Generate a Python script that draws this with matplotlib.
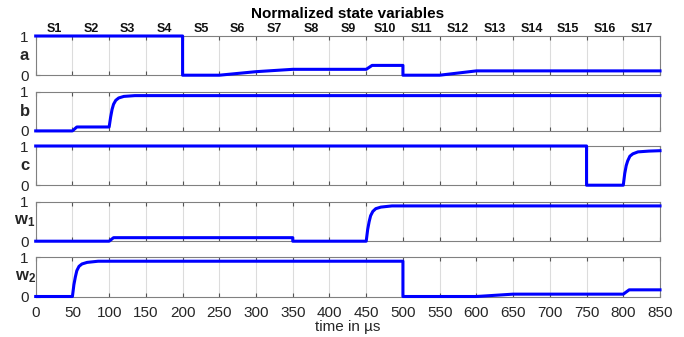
import matplotlib
matplotlib.use('Agg')
import matplotlib.pyplot as plt
import numpy as np

plt.rcParams['font.family'] = ['Liberation Sans', 'DejaVu Sans']
plt.rcParams['mathtext.fontset'] = 'custom'
plt.rcParams['mathtext.bf'] = 'Liberation Sans:bold'
plt.rcParams['mathtext.rm'] = 'Liberation Sans'

# state labels along the top
states = ['S%d' % i for i in range(1, 18)]
state_centers = [25 + 50 * i for i in range(17)]

# normalized state variables (time in us, value)
a_t = [0, 200, 200, 250, 300, 350, 450, 458, 500, 500, 550, 600, 850]
a_v = [1, 1, 0, 0, 0.09, 0.15, 0.15, 0.25, 0.25, 0, 0, 0.11, 0.11]

b_t = [0, 50, 56, 100, 102, 104, 106, 109, 113, 120, 135, 850]
b_v = [0, 0, 0.1, 0.1, 0.35, 0.55, 0.68, 0.78, 0.84, 0.88, 0.9, 0.9]

c_t = [0, 750, 750, 800, 802, 804, 806, 809, 813, 820, 835, 850]
c_v = [1, 1, 0, 0, 0.3, 0.5, 0.62, 0.74, 0.8, 0.85, 0.87, 0.88]

w1_t = [0, 100, 106, 350, 350, 450, 452, 454, 456, 459, 463, 470, 485, 850]
w1_v = [0, 0, 0.09, 0.09, 0, 0, 0.3, 0.5, 0.65, 0.76, 0.83, 0.87, 0.9, 0.9]

w2_t = [0, 50, 52, 54, 56, 59, 63, 70, 85, 500, 500, 600, 650, 800, 808, 850]
w2_v = [0, 0, 0.3, 0.5, 0.66, 0.77, 0.83, 0.87, 0.9, 0.9, 0, 0, 0.06, 0.06, 0.17, 0.17]

series = [(a_t, a_v, r'$\mathbf{a}$'),
          (b_t, b_v, r'$\mathbf{b}$'),
          (c_t, c_v, r'$\mathbf{c}$'),
          (w1_t, w1_v, r'$\mathbf{w_1}$'),
          (w2_t, w2_v, r'$\mathbf{w_2}$')]

W, H = 684, 337
fig = plt.figure(figsize=(W / 100, H / 100), dpi=100)

left = 35.7 / W
width = 624.3 / W
tops = [36, 91.7, 146, 202, 257.3]
ph = 39.2

ticks = np.arange(0, 851, 50)
axes = []
for k, (t, v, lab) in enumerate(series):
    ax = fig.add_axes([left, 1 - (tops[k] + ph) / H, width, ph / H])
    ax.plot(t, v, color='#0000ff', lw=2.2, clip_on=False, solid_joinstyle='round', zorder=3)
    ax.set_xlim(0, 850)
    ax.set_ylim(0, 1)
    ax.set_xticks(ticks)
    ax.set_yticks([0, 1])
    ax.grid(axis='x', color='#dcdcdc', lw=0.8)
    ax.tick_params(direction='in', length=3, color='#555555', labelsize=11,
                   labelcolor='#262626', top=True, right=False)
    ax.tick_params(axis='x', pad=7)
    ax.tick_params(axis='y', pad=5)
    for s in ax.spines.values():
        s.set_color('#808080')
        s.set_linewidth(0.8)
    if k < 4:
        ax.tick_params(labelbottom=False)
    ax.set_ylabel(lab, rotation=0, fontsize=12, color='#262626', va='center', ha='center')
    ax.yaxis.set_label_coords(-0.017, 0.5)
    axes.append(ax)

axes[-1].set_xlabel('time in µs', fontsize=11, color='#262626', labelpad=0)

top_ax = axes[0]
for s, c in zip(states, state_centers):
    top_ax.text(c, 1.03, s, transform=top_ax.get_xaxis_transform(), ha='center', va='bottom',
                fontsize=9, fontweight='bold', color='#111111')
top_ax.set_title('Normalized state variables', fontsize=11, fontweight='bold', pad=13)

fig.savefig('out.png', dpi=100)
